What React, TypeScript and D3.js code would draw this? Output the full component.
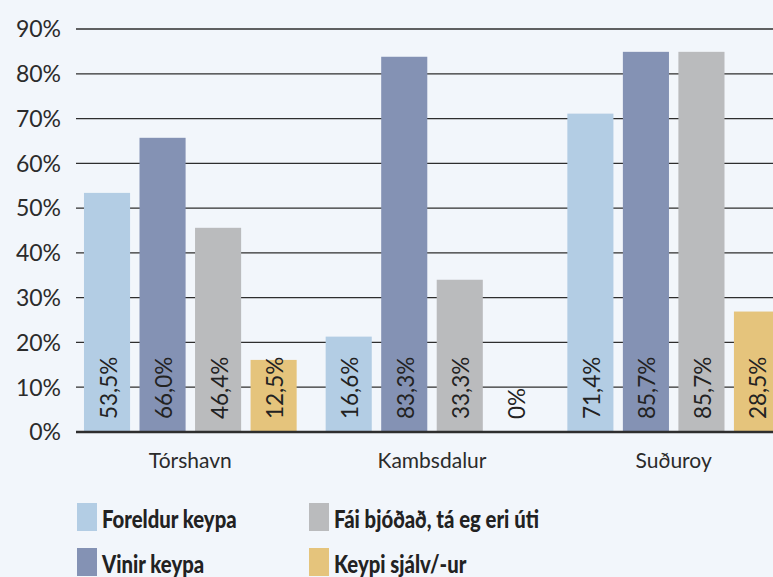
import * as d3 from "d3"

const categories = ["Tórshavn", "Kambsdalur", "Suðuroy"]
const series = ["Foreldur keypa", "Vinir keypa", "Fái bjóðað, tá eg eri úti", "Keypi sjálv/-ur"]
const colors = ["#b3cde4", "#8492b4", "#babbbd", "#e5c47c"]

// bar heights as drawn (percent)
const foreldur = [53.4, 21.3, 71.1]
const vinir = [65.7, 83.8, 84.9]
const faiBjodad = [45.6, 34.0, 84.9]
const keypiSjalv = [16.1, 0, 26.9]

// printed labels
const foreldurLabels = ["53,5%", "16,6%", "71,4%"]
const vinirLabels = ["66,0%", "83,3%", "85,7%"]
const faiBjodadLabels = ["46,4%", "33,3%", "85,7%"]
const keypiSjalvLabels = ["12,5%", "0%", "28,5%"]

const yTicks = [0, 10, 20, 30, 40, 50, 60, 70, 80, 90]

const W = 773
const H = 577

export default function App() {
  const values = [foreldur, vinir, faiBjodad, keypiSjalv]
  const labels = [foreldurLabels, vinirLabels, faiBjodadLabels, keypiSjalvLabels]

  const x0 = d3.scaleBand().domain(categories).range([76, 788]).paddingInner(0.12).paddingOuter(0.033)
  const x1 = d3.scaleBand().domain(series).range([0, x0.bandwidth()]).paddingInner(0.17)
  const y = d3.scaleLinear().domain([0, 90]).range([432, 29])

  const font = "Lato, 'Open Sans', sans-serif"

  return (
    <svg
      width={W}
      height={H}
      style={{ position: "absolute", left: 0, top: 0, background: "#f2f6fb" }}
      fontFamily={font}
    >
      <rect width={W} height={H} fill="#f2f6fb" />

      {/* gridlines + y ticks */}
      {yTicks.map((t) => (
        <g key={t}>
          {t > 0 && <line x1={76} x2={W} y1={y(t)} y2={y(t)} stroke="#2e2e2e" strokeWidth={1.3} />}
          <text x={61} y={y(t)} dy="0.36em" textAnchor="end" fontSize={23} fill="#2b2b2b">
            {t}%
          </text>
        </g>
      ))}

      {/* bars */}
      {categories.map((c, ci) => (
        <g key={c} transform={`translate(${x0(c)},0)`}>
          {series.map((s, si) => {
            const v = values[si][ci]
            const bx = x1(s)
            return (
              <g key={s}>
                {v > 0 && (
                  <rect x={bx} y={y(v)} width={x1.bandwidth()} height={y(0) - y(v)} fill={colors[si]} />
                )}
                <text
                  transform={`translate(${bx + x1.bandwidth() / 2 + 1},419) rotate(-90)`}
                  dominantBaseline="central"
                  fontSize={22.5}
                  fill="#222"
                >
                  {labels[si][ci]}
                </text>
              </g>
            )
          })}
          <text
            x={x0.bandwidth() / 2}
            y={468}
            textAnchor="middle"
            fontSize={21}
            fill="#2b2b2b"
          >
            {c}
          </text>
        </g>
      ))}

      {/* x axis line */}
      <line x1={76} x2={W} y1={y(0)} y2={y(0)} stroke="#2e2e2e" strokeWidth={2.5} />

      {/* legend */}
      {series.map((s, i) => {
        const col = Math.floor(i / 2)
        const row = i % 2
        const lx = 77 + col * 232
        const ly = 503 + row * 45
        return (
          <g key={s} transform={`translate(${lx},${ly})`}>
            <rect width={20} height={28} fill={colors[i]} />
            <text
              transform="translate(25,25) scale(0.845,1)"
              fontSize={24}
              fontWeight="900"
              fill="#222"
            >
              {s}
            </text>
          </g>
        )
      })}
    </svg>
  )
}
